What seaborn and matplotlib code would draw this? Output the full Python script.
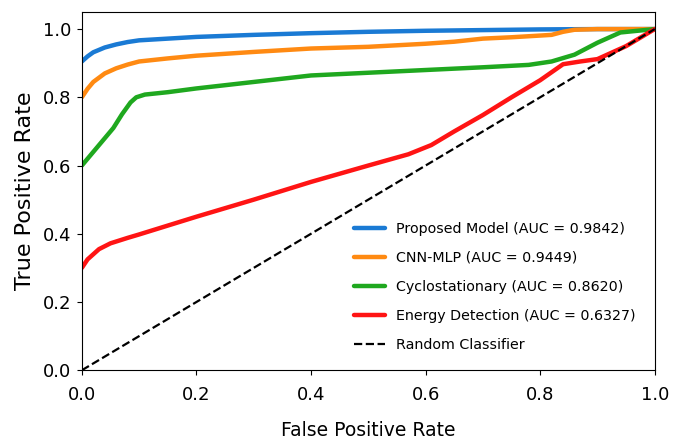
import matplotlib
matplotlib.use("Agg")
import matplotlib.pyplot as plt
import seaborn as sns

# ROC points
proposed_fpr = [0.0, 0.01, 0.02, 0.04, 0.06, 0.08, 0.10, 0.15, 0.20, 0.30, 0.40, 0.50, 0.60, 0.70, 0.80, 0.90, 1.0]
proposed_tpr = [0.905, 0.92, 0.932, 0.946, 0.955, 0.962, 0.967, 0.972, 0.977, 0.983, 0.988, 0.992, 0.995, 0.997, 0.999, 1.0, 1.0]

cnn_fpr = [0.0, 0.01, 0.02, 0.04, 0.06, 0.08, 0.10, 0.15, 0.20, 0.30, 0.40, 0.50, 0.60, 0.65, 0.70, 0.75, 0.82, 0.84, 0.86, 0.90, 1.0]
cnn_tpr = [0.80, 0.825, 0.845, 0.87, 0.885, 0.896, 0.905, 0.914, 0.922, 0.933, 0.943, 0.948, 0.957, 0.963, 0.972, 0.976, 0.983, 0.992, 0.998, 1.0, 1.0]

cyclo_fpr = [0.0, 0.03, 0.055, 0.07, 0.085, 0.095, 0.11, 0.15, 0.20, 0.30, 0.40, 0.50, 0.60, 0.70, 0.78, 0.82, 0.86, 0.90, 0.94, 0.97, 1.0]
cyclo_tpr = [0.60, 0.66, 0.71, 0.75, 0.785, 0.80, 0.808, 0.815, 0.826, 0.845, 0.864, 0.872, 0.880, 0.888, 0.895, 0.905, 0.925, 0.96, 0.99, 0.995, 1.0]

energy_fpr = [0.0, 0.01, 0.03, 0.05, 0.08, 0.10, 0.20, 0.30, 0.40, 0.50, 0.57, 0.61, 0.65, 0.70, 0.75, 0.80, 0.84, 0.87, 0.90, 0.95, 1.0]
energy_tpr = [0.30, 0.325, 0.355, 0.372, 0.388, 0.398, 0.45, 0.50, 0.552, 0.60, 0.633, 0.66, 0.70, 0.748, 0.80, 0.85, 0.897, 0.905, 0.912, 0.95, 1.0]

random_fpr = [0.0, 1.0]
random_tpr = [0.0, 1.0]

labels = ["Proposed Model (AUC = 0.9842)", "CNN-MLP (AUC = 0.9449)",
          "Cyclostationary (AUC = 0.8620)", "Energy Detection (AUC = 0.6327)"]
colors = ["#1a7ad4", "#ff8a12", "#1fa81f", "#ff1414"]

sns.set_style("ticks", {"text.color": "black", "axes.labelcolor": "black",
                        "xtick.color": "black", "ytick.color": "black",
                        "axes.edgecolor": "black"})
plt.rcParams['font.family'] = ['DejaVu Sans']

fig = plt.figure(figsize=(6.82, 4.45), dpi=100)
ax = fig.add_axes([0.12, 0.168, 0.84, 0.805])

curves = [(proposed_fpr, proposed_tpr), (cnn_fpr, cnn_tpr),
          (cyclo_fpr, cyclo_tpr), (energy_fpr, energy_tpr)]
for (fx, ty), lab, col in zip(curves, labels, colors):
    sns.lineplot(x=fx, y=ty, ax=ax, color=col, linewidth=3.2, label=lab,
                 sort=False, estimator=None)

sns.lineplot(x=random_fpr, y=random_tpr, ax=ax, color="black", linewidth=1.6,
             linestyle="--", label="Random Classifier", sort=False, estimator=None)

ax.set_xlim(0, 1.0)
ax.set_ylim(0, 1.05)
ax.set_xticks([0, 0.2, 0.4, 0.6, 0.8, 1.0])
ax.set_yticks([0, 0.2, 0.4, 0.6, 0.8, 1.0])
ax.tick_params(axis="x", labelsize=13, pad=8)
ax.tick_params(axis="y", labelsize=13, pad=4)
ax.set_xlabel("False Positive Rate", fontsize=13.5, labelpad=12)
ax.set_ylabel("True Positive Rate", fontsize=16, labelpad=6)
for s in ax.spines.values():
    s.set_visible(True)
    s.set_color("black")

leg = ax.legend(loc="lower right", fontsize=10.3, frameon=True, edgecolor="white",
                framealpha=1, handlelength=2.2, labelspacing=1.05,
                borderaxespad=0.9)

fig.savefig("out.png", dpi=100)
